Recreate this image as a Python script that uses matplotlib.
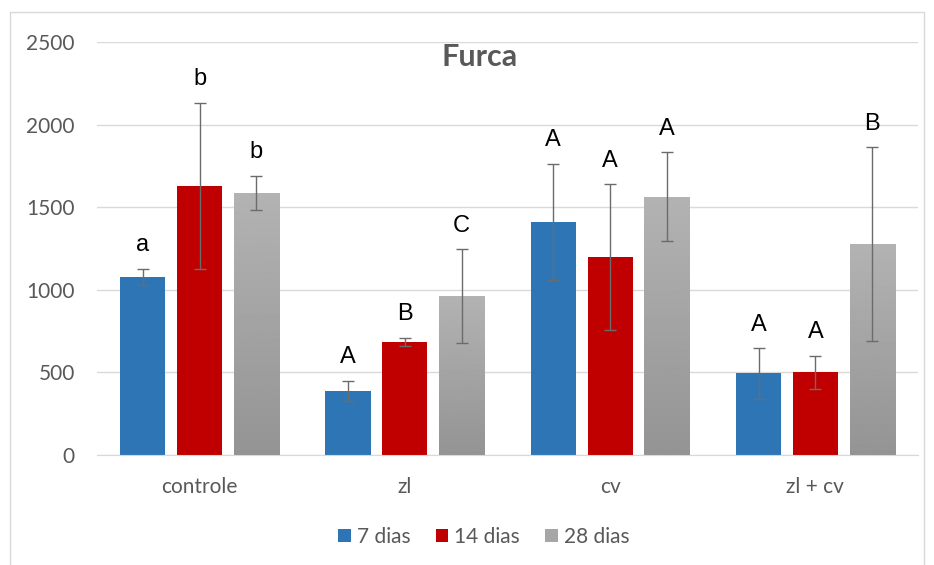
import numpy as np
import matplotlib
matplotlib.use('Agg')
from matplotlib import pyplot as plt
from matplotlib.patches import Rectangle, Patch

categories = ['controle', 'zl', 'cv', 'zl + cv']
series = ['7 dias', '14 dias', '28 dias']
means_7 = [1077, 387, 1412, 494]
means_14 = [1628, 684, 1197, 500]
means_28 = [1586, 962, 1563, 1277]
err_7 = [50, 62, 351, 152]
err_14 = [505, 26, 443, 100]
err_28 = [103, 284, 270, 585]
letters_7 = ['a', 'A', 'A', 'A']
letters_14 = ['b', 'B', 'A', 'A']
letters_28 = ['b', 'C', 'A', 'B']

colors = ['#2E75B6', '#C00000', '#A6A6A6']
text_grey = '#595959'
grid_grey = '#D9D9D9'

fig = plt.figure(figsize=(9.34, 5.65), dpi=100)
fig.patches.append(Rectangle((10 / 934, -0.01), 914 / 934, 1 - 12 / 565 + 0.01,
                             transform=fig.transFigure, fill=False,
                             edgecolor='#D9D9D9', linewidth=1))
ax = fig.add_axes([97 / 934, 1 - 455 / 565, 821 / 934, 413 / 565])

x = np.arange(len(categories))
width = 0.22
offsets = [-0.277, 0, 0.277]
all_means = [means_7, means_14, means_28]
all_errs = [err_7, err_14, err_28]
all_letters = [letters_7, letters_14, letters_28]

for i in range(3):
    bars = ax.bar(x + offsets[i], all_means[i], width, color=colors[i], zorder=2)
    if i == 2:
        # grey bars have a light-to-dark vertical gradient
        grad = np.linspace(0.70, 0.58, 256).reshape(-1, 1)
        for b in bars:
            x0, y0 = b.get_x(), b.get_y()
            im = ax.imshow(grad, cmap='gray', vmin=0, vmax=1, aspect='auto',
                           extent=(x0, x0 + b.get_width(), y0, y0 + b.get_height()),
                           origin='upper', zorder=2.5)
            im.set_clip_path(b)
    ax.errorbar(x + offsets[i], all_means[i], yerr=all_errs[i], fmt='none',
                ecolor='#6b6b6b', elinewidth=1, capsize=4, capthick=1, zorder=3)
    for xi, m, e, lab in zip(x + offsets[i], all_means[i], all_errs[i], all_letters[i]):
        ax.annotate(lab, (xi, m + e), xytext=(0, 9), textcoords='offset points',
                    ha='center', va='bottom', fontsize=17, color='black',
                    family='Liberation Sans')

ax.set_xlim(-0.5, 3.5)
ax.set_ylim(0, 2500)
ax.set_yticks(np.arange(0, 2501, 500))
ax.set_xticks(x)
ax.set_xticklabels(categories)
ax.grid(axis='y', color=grid_grey, linewidth=1, zorder=0)
ax.set_axisbelow(True)
for s in ['top', 'right', 'left']:
    ax.spines[s].set_visible(False)
ax.spines['bottom'].set_color(grid_grey)
ax.tick_params(axis='both', length=0, labelsize=15, labelcolor=text_grey)
ax.tick_params(axis='y', pad=16)
ax.tick_params(axis='x', pad=16)
for t in ax.get_xticklabels() + ax.get_yticklabels():
    t.set_family('Lato')

fig.text(480 / 934, 1 - 57 / 565, 'Furca', ha='center', va='center',
         fontsize=22, fontweight='bold', color=text_grey, family='Lato')

handles = [Patch(facecolor=c) for c in colors]
fig.legend(handles, series, loc='center', bbox_to_anchor=(484 / 934, 1 - 537 / 565),
           ncol=3, frameon=False, prop={'family': 'Lato', 'size': 15},
           labelcolor=text_grey, handlelength=0.6, handleheight=0.6,
           handletextpad=0.3, columnspacing=1.2)

fig.savefig('out.png', dpi=100)
